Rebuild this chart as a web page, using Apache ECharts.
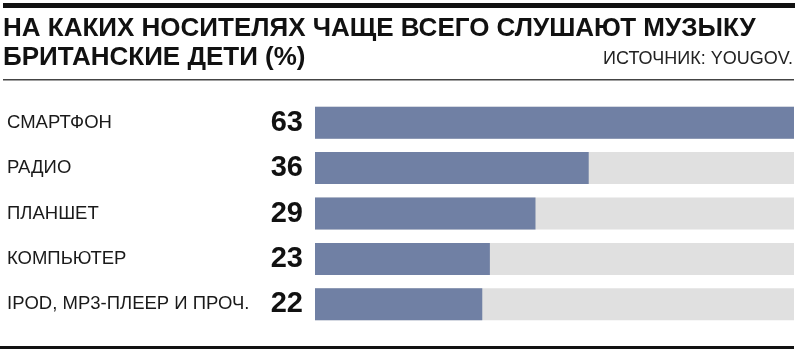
<!DOCTYPE html>
<html><head><meta charset="utf-8">
<script src="https://cdn.jsdelivr.net/npm/echarts@6/dist/echarts.min.js"></script>
<style>html,body{margin:0;padding:0;background:#fff}#c{width:800px;height:354px}</style>
</head><body><div id="c"></div>
<script>
const titleLines = ['НА КАКИХ НОСИТЕЛЯХ ЧАЩЕ ВСЕГО СЛУШАЮТ МУЗЫКУ', 'БРИТАНСКИЕ ДЕТИ (%)'];
const sourceText = 'ИСТОЧНИК: YOUGOV.';
const categories = ['СМАРТФОН', 'РАДИО', 'ПЛАНШЕТ', 'КОМПЬЮТЕР', 'IPOD, MP3-ПЛЕЕР И ПРОЧ.'];
const values = [63, 36, 29, 23, 22];

const chart = echarts.init(document.getElementById('c'), null, {renderer: 'canvas'});
const FONT = '"Liberation Sans", Arial, sans-serif';
chart.setOption({
  animation: false,
  grid: {left: 315, right: 6, top: 100, height: 227},
  xAxis: {type: 'value', min: 0, max: 'dataMax', show: false},
  yAxis: [
    {type: 'category', data: categories, inverse: true,
     axisLine: {show: false}, axisTick: {show: false},
     axisLabel: {align: 'left', margin: 308, fontFamily: FONT, fontSize: 18.5, color: '#1a1a1a'}},
    {type: 'category', data: values.map(String), inverse: true, position: 'left',
     axisLine: {show: false}, axisTick: {show: false},
     axisLabel: {margin: 12, fontFamily: FONT, fontSize: 29, fontWeight: 'bold', color: '#111'}}
  ],
  series: [{
    type: 'bar', yAxisIndex: 0, data: values, barWidth: 32,
    itemStyle: {color: '#7080a4'},
    showBackground: true, backgroundStyle: {color: '#e0e0e0'}
  }],
  graphic: [
    {type: 'rect', shape: {x: 3, y: 3, width: 792, height: 5}, style: {fill: '#111'}},
    {type: 'text', left: 3, top: 14, style: {text: titleLines.join('\n'), font: 'bold 26px ' + FONT, fill: '#111', lineHeight: 29}},
    {type: 'text', right: 7, top: 50, style: {text: sourceText, font: '18px ' + FONT, fill: '#222'}},
    {type: 'rect', shape: {x: 3, y: 79, width: 791, height: 1.5}, style: {fill: '#444'}},
    {type: 'rect', shape: {x: 0, y: 346, width: 794, height: 3}, style: {fill: '#111'}}
  ]
});
</script></body></html>
